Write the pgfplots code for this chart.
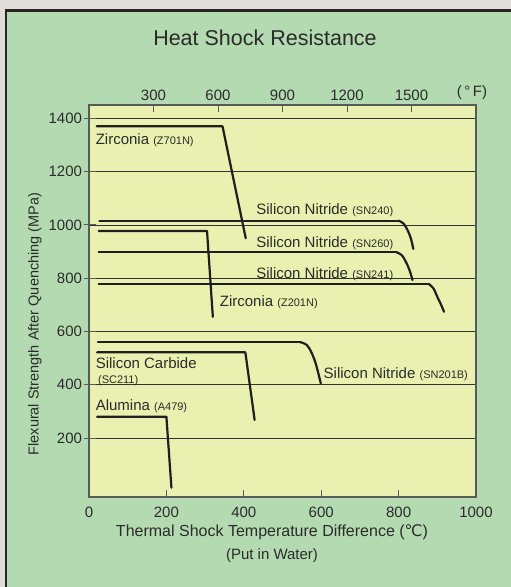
\documentclass[border=0pt]{standalone}
\usepackage{fontspec}
\setmainfont{Liberation Sans}
\newfontfamily\dejavu{DejaVu Sans}
\usepackage{pgfplots}
\pgfplotsset{compat=1.18}
\definecolor{bggray}{HTML}{E0DCDA}
\definecolor{panel}{HTML}{B3DAB0}
\definecolor{plotbg}{HTML}{EAF0B0}
\definecolor{txt}{HTML}{2B2B2B}
\definecolor{frame}{HTML}{5A5A5A}
\newcommand{\sm}[1]{{\fontsize{11}{13}\selectfont(#1)}}
\newcommand{\lf}{\fontsize{15}{18}\selectfont}
\pgfplotsset{
  common/.style={
    at={(89pt,90pt)}, anchor=south west, scale only axis,
    width=387pt, height=392pt,
    xmin=0, xmax=1000, ymin=-21, ymax=1450,
    axis line style={frame, line width=1.3pt},
    tick style={frame, line width=1pt},
    ticklabel style={font=\fontsize{15}{15}\selectfont, text=txt},
    /pgf/number format/assume math mode=true,
    /pgf/number format/1000 sep={},
  },
}
\tikzset{
  dl/.style={line width=2.2pt, color=black!88, line cap=round, line join=round},
  lab/.style={anchor=base west, inner sep=0pt, font=\lf, text=txt},
}
\begin{document}
\begin{tikzpicture}
\useasboundingbox (0pt,0pt) rectangle (511pt,587pt);
\fill[bggray] (0pt,0pt) rectangle (511pt,587pt);
\fill[panel] (6.2pt,0pt) rectangle (511pt,576.5pt);
\draw[line width=2.3pt, black!85] (6.2pt,-3pt) -- (6.2pt,576.5pt) -- (514pt,576.5pt);

\begin{axis}[common,
  axis background/.style={fill=plotbg},
  xtick={0,200,...,1000}, xtick pos=left,
  xticklabel style={yshift=-6pt},
  ytick={200,400,...,1400}, ytick pos=left, yticklabels={},
  tick align=inside, major tick length=7pt,
  ymajorgrids, grid style={black!80, line width=0.8pt},
]
% Zirconia Z701N
\addplot[dl] coordinates {(20,1370) (345,1370) (405,950)};
% Zirconia Z201N
\addplot[dl] coordinates {(25,977) (305,977) (320,655)};
% Silicon Nitride SN240
\addplot[dl] coordinates {(27,1016) (800,1016)};
\addplot[dl, smooth, tension=0.6] coordinates {(800,1016) (812,1006) (823,981) (831.5,950) (838,910)};
% Silicon Nitride SN260
\addplot[dl] coordinates {(25,897) (795,897)};
\addplot[dl, smooth, tension=0.6] coordinates {(795,897) (808,887) (818.6,862) (828,831) (836,793)};
% Silicon Nitride SN241
\addplot[dl] coordinates {(25,777) (879,777)};
\addplot[dl, smooth, tension=0.6] coordinates {(879,777) (890,762) (900,730) (909,703) (917.4,674)};
% Silicon Nitride SN201B
\addplot[dl] coordinates {(23,560) (546,560)};
\addplot[dl, smooth, tension=0.6] coordinates {(546,560) (563,549) (576,518) (587,474) (599,405)};
% Silicon Carbide SC211
\addplot[dl] coordinates {(21,522) (404,522) (428,268)};
% Alumina A479
\addplot[dl] coordinates {(21,280) (200,280) (213,14)};

\node[lab] at (axis cs:17,1302) {Zirconia \sm{Z701N}};
\node[lab] at (axis cs:432,1040) {Silicon Nitride \sm{SN240}};
\node[lab] at (axis cs:432,914) {Silicon Nitride \sm{SN260}};
\node[lab] at (axis cs:432,798) {Silicon Nitride \sm{SN241}};
\node[lab] at (axis cs:337.6,693) {Zirconia \sm{Z201N}};
\node[lab] at (axis cs:606,424) {Silicon Nitride \sm{SN201B}};
\node[lab] at (axis cs:17,462) {Silicon Carbide};
\node[lab] at (axis cs:23,405) {\sm{SC211}};
\node[lab] at (axis cs:17,302) {Alumina \sm{A479}};
\end{axis}

% y ticks outward with labels
\begin{axis}[common, hide x axis,
  ytick={200,400,...,1400}, ytick pos=left,
  yticklabel style={xshift=2pt},
  tick align=outside, major tick length=5.5pt,
]
\end{axis}

% top Fahrenheit axis
\begin{axis}[common, hide y axis,
  xtick={166.667,333.333,500,666.667,833.333},
  xticklabels={300,600,900,1200,1500},
  xtick pos=right, xticklabel pos=right,
  xticklabel style={yshift=1pt},
  tick align=inside, major tick length=7pt,
]
\end{axis}

\node[text=txt, font=\fontsize{15}{15}\selectfont] at (472pt,494pt) {(\,°\,F)};
\node[text=txt, font=\fontsize{21.5}{24}\selectfont] at (265pt,549pt) {Heat Shock Resistance};
\node[text=txt, font=\fontsize{16}{18}\selectfont] at (272pt,55pt) {Thermal Shock Temperature Difference ({\dejavu ℃})};
\node[text=txt, font=\fontsize{15}{17}\selectfont] at (272pt,31pt) {(Put in Water)};
\node[text=txt, font=\fontsize{14.5}{17}\selectfont, rotate=90] at (35pt,263pt) {Flexural Strength After Quenching (MPa)};
\end{tikzpicture}
\end{document}
